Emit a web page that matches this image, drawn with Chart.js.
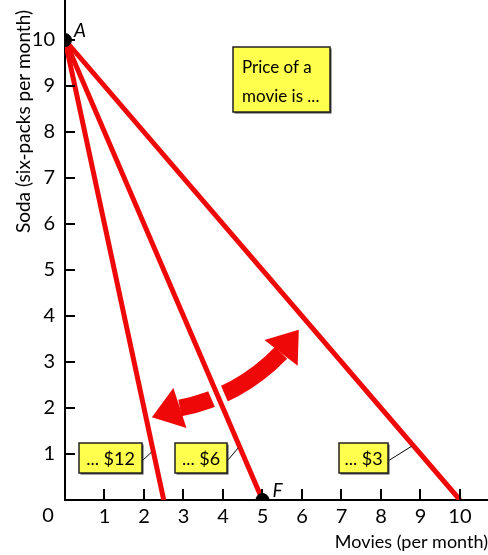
<!DOCTYPE html>
<html>
<head>
<meta charset="utf-8">
<script src="https://cdn.jsdelivr.net/npm/chart.js@4.4.1/dist/chart.umd.min.js"></script>
<style>
  html, body { margin: 0; padding: 0; background: #fff; }
  #wrap { width: 488px; height: 555px; }
</style>
</head>
<body>
<div id="wrap"><canvas id="chart" width="488" height="555"></canvas></div>
<script>
// Budget lines: all start at 10 six-packs, end at the movie intercept for each price
const sodaIntercept   = 10;
const movieIntercepts = [2.5, 5, 10];
const priceLabels     = ['... $12', '... $6', '... $3'];

// Labelled points
const pointNames = ['A', 'F'];
const pointMovies = [0, 5];
const pointSoda   = [10, 0];

const movieTicks = [1, 2, 3, 4, 5, 6, 7, 8, 9, 10];
const sodaTicks  = [1, 2, 3, 4, 5, 6, 7, 8, 9, 10];

const RED  = '#ee0808';
const FONT = 'Lato, "DejaVu Sans", sans-serif';

// inward tick marks, boxes, labels
const decorPlugin = {
    id: 'decor',
    beforeDatasetsDraw(chart) {
        const { ctx, scales: { x, y } } = chart;
        const P = (m, s) => [x.getPixelForValue(m), y.getPixelForValue(s)];

        // curved double arrow
        const lTip = P(2.20, 1.80), lBase = P(2.91, 2.00);
        const ctrl = P(4.40, 2.25);
        const rBase = P(5.47, 3.20), rTip = P(5.92, 3.70);

        ctx.save();
        ctx.strokeStyle = RED;
        ctx.fillStyle = RED;
        ctx.lineWidth = 17;
        ctx.lineCap = 'butt';
        ctx.beginPath();
        ctx.moveTo(lBase[0], lBase[1]);
        ctx.quadraticCurveTo(ctrl[0], ctrl[1], rBase[0], rBase[1]);
        ctx.stroke();

        const head = (base, tip) => {
            const dx = tip[0] - base[0], dy = tip[1] - base[1];
            const len = Math.hypot(dx, dy);
            const nx = -dy / len * 21, ny = dx / len * 21;
            ctx.beginPath();
            ctx.moveTo(tip[0], tip[1]);
            ctx.lineTo(base[0] + nx, base[1] + ny);
            ctx.lineTo(base[0] - nx, base[1] - ny);
            ctx.closePath();
            ctx.fill();
        };
        head(lBase, lTip);
        head(rBase, rTip);

        // white gap where the $6 line crosses the arrow
        const i = 1;
        const s0 = 1.5, s1 = 3.1;
        const g0 = P(movieIntercepts[i] * (1 - s0 / sodaIntercept), s0);
        const g1 = P(movieIntercepts[i] * (1 - s1 / sodaIntercept), s1);
        ctx.strokeStyle = '#fff';
        ctx.lineWidth = 14;
        ctx.beginPath();
        ctx.moveTo(g0[0], g0[1]);
        ctx.lineTo(g1[0], g1[1]);
        ctx.stroke();
        ctx.restore();
    },
    afterDatasetsDraw(chart) {
        const { ctx, scales: { x, y } } = chart;
        const P = (m, s) => [x.getPixelForValue(m), y.getPixelForValue(s)];
        ctx.save();

        // tick marks pointing into the plot
        ctx.strokeStyle = '#000';
        ctx.lineWidth = 2;
        const x0 = x.getPixelForValue(0), y0 = y.getPixelForValue(0);
        movieTicks.forEach(v => {
            const px = Math.round(x.getPixelForValue(v));
            ctx.beginPath();
            ctx.moveTo(px, y0);
            ctx.lineTo(px, y0 - 11);
            ctx.stroke();
        });
        sodaTicks.forEach(v => {
            const py = Math.round(y.getPixelForValue(v));
            ctx.beginPath();
            ctx.moveTo(x0, py);
            ctx.lineTo(x0 + 10, py);
            ctx.stroke();
        });

        // shared origin label
        ctx.fillStyle = '#000';
        ctx.font = '20px ' + FONT;
        ctx.textAlign = 'center';
        ctx.textBaseline = 'middle';
        ctx.fillText('0', x0 - 17, y0 + 16);

        // point names
        ctx.font = 'italic 19px ' + FONT;
        pointNames.forEach((name, k) => {
            const [px, py] = P(pointMovies[k], pointSoda[k]);
            ctx.fillText(name, px + 15, py - 9);
        });

        // y axis title
        ctx.save();
        ctx.translate(24, 10);
        ctx.rotate(-Math.PI / 2);
        ctx.textAlign = 'right';
        ctx.font = '19px ' + FONT;
        ctx.fillText('Soda (six-packs per month)', 0, 0);
        ctx.restore();

        const box = (left, top, w, h) => {
            ctx.fillStyle = '#444';
            ctx.fillRect(left + 1.5, top + 1.5, w, h);
            ctx.fillStyle = '#ffff4d';
            ctx.fillRect(left, top, w, h);
            ctx.strokeStyle = '#222';
            ctx.lineWidth = 1.5;
            ctx.strokeRect(left, top, w, h);
        };

        // price labels with leader lines to each budget line
        const boxes = [[79, 443, 63, 30], [175, 443, 52, 30], [339, 443, 49, 30]];
        const leadSoda = [1.04, 1.13, 1.17];
        boxes.forEach(([l, t, w, h], k) => {
            const s = leadSoda[k];
            const end = P(movieIntercepts[k] * (1 - s / sodaIntercept), s);
            ctx.strokeStyle = '#000';
            ctx.lineWidth = 1;
            ctx.beginPath();
            ctx.moveTo(l + w, t + h / 2 + 3);
            ctx.lineTo(end[0] - 2, end[1]);
            ctx.stroke();
            box(l, t, w, h);
            ctx.fillStyle = '#000';
            ctx.font = '18px ' + FONT;
            ctx.textAlign = 'center';
            ctx.textBaseline = 'middle';
            ctx.fillText(priceLabels[k], l + w / 2, t + h / 2 + 1);
        });

        box(233, 47, 97, 65);
        ctx.fillStyle = '#000';
        ctx.font = '17px ' + FONT;
        ctx.textAlign = 'left';
        ctx.textBaseline = 'alphabetic';
        ctx.fillText('Price of a', 242, 73);
        ctx.fillText('movie is ...', 242, 102);

        ctx.restore();
    }
};

const budgetSets = movieIntercepts.map((m, k) => ({
    type: 'line',
    label: priceLabels[k],
    data: [{ x: 0, y: sodaIntercept }, { x: m, y: 0 }],
    borderColor: RED,
    borderWidth: 5,
    pointRadius: 0,
    order: 1,
}));

new Chart(document.getElementById('chart'), {
    type: 'scatter',
    data: {
        datasets: [{
            label: 'points',
            data: pointNames.map((n, k) => ({ x: pointMovies[k], y: pointSoda[k] })),
            backgroundColor: '#000',
            borderColor: '#000',
            pointRadius: 6.5,
            order: 0,
        }, ...budgetSets],
    },
    options: {
        responsive: false,
        animation: false,
        devicePixelRatio: 1,
        layout: { padding: 0, autoPadding: false },
        plugins: { legend: { display: false }, tooltip: { enabled: false } },
        scales: {
            x: {
                type: 'linear',
                min: 0,
                max: 10.71,
                afterFit: s => { s.height = 55; s.paddingLeft = 0; s.paddingRight = 0; },
                grid: { display: false, drawTicks: false },
                border: { display: true, color: '#000', width: 2 },
                ticks: {
                    stepSize: 1,
                    includeBounds: false,
                    padding: 5,
                    color: '#000',
                    font: { family: FONT, size: 20 },
                    callback: v => (v === 0 ? '' : v),
                },
                title: {
                    display: true,
                    text: 'Movies (per month)',
                    align: 'end',
                    color: '#000',
                    font: { family: FONT, size: 18 },
                    padding: { top: 0, bottom: 2 },
                },
            },
            y: {
                type: 'linear',
                min: 0,
                max: 10.87,
                afterFit: s => { s.width = 65; s.paddingTop = 0; s.paddingBottom = 0; },
                grid: { display: false, drawTicks: false },
                border: { display: true, color: '#000', width: 2 },
                ticks: {
                    stepSize: 1,
                    includeBounds: false,
                    padding: 10,
                    color: '#000',
                    font: { family: FONT, size: 20 },
                    callback: v => (v === 0 ? '' : v),
                },
            },
        },
    },
    plugins: [decorPlugin],
});
</script>
</body>
</html>
